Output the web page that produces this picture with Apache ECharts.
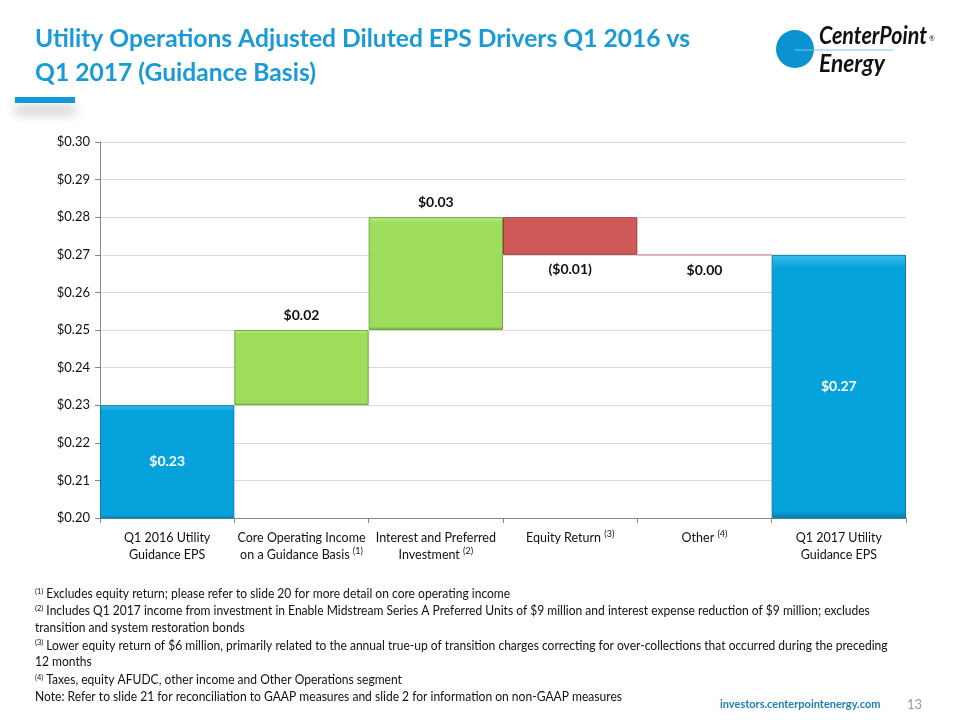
<!DOCTYPE html>
<html><head><meta charset="utf-8">
<script src="https://cdn.jsdelivr.net/npm/echarts@6/dist/echarts.min.js"></script>
<style>html,body{margin:0;padding:0;background:#fff}#c{width:960px;height:720px}</style>
</head><body><div id="c"></div>
<script>
const categories = [
  'Q1 2016 Utility\nGuidance EPS',
  'Core Operating Income\non a Guidance Basis {sup|(1)}',
  'Interest and Preferred\nInvestment {sup|(2)}',
  'Equity Return {sup|(3)}',
  'Other {sup|(4)}',
  'Q1 2017 Utility\nGuidance EPS'
];
const values = [0.23, 0.02, 0.03, -0.01, 0.00, 0.27];
const isTotal = [true, false, false, false, false, true];
const labels = ['$0.23', '$0.02', '$0.03', '($0.01)', '$0.00', '$0.27'];
const footnotes = [
  '{s|(1)} Excludes equity return; please refer to slide 20 for more detail on core operating income',
  '{s|(2)} Includes Q1 2017 income from investment in Enable Midstream Series A Preferred Units of $9 million and interest expense reduction of $9 million; excludes',
  'transition and system restoration bonds',
  '{s|(3)} Lower equity return of $6 million, primarily related to the annual true-up of transition charges correcting for over-collections that occurred during the preceding',
  '12 months',
  '{s|(4)} Taxes, equity AFUDC, other income and Other Operations segment',
  'Note: Refer to slide 21 for reconciliation to GAAP measures and slide 2 for information on non-GAAP measures'
];

const LFONT = 'Lato, "Open Sans", sans-serif';

// text measuring helper (layout only)
const mctx = document.createElement('canvas').getContext('2d');
function fitScale(text, font, target) {
  mctx.font = font;
  return target / mctx.measureText(text).width;
}

// waterfall bases
let running = 0;
const base = [], height = [];
values.forEach((v, i) => {
  if (isTotal[i]) { base.push(0); height.push(v); running = v; }
  else if (v >= 0) { base.push(running); height.push(v); running += v; }
  else { base.push(running + v); height.push(-v); running += v; }
});

const colors = { total: ['#3cc0ee', '#06a2dc', '#0a7cab'], up: ['#bdee8c', '#9ddd5b', '#6ea83a'], down: ['#e48484', '#cf5858', '#9c3a3a'], zero: ['#e0a8a8', '#e0a8a8', '#d4a0a0'] };
function grad(c) {
  return new echarts.graphic.LinearGradient(0, 0, 0, 1, [
    { offset: 0, color: c[0] }, { offset: 0.05, color: c[1] }, { offset: 0.97, color: c[1] }, { offset: 1, color: c[2] }
  ]);
}
const visData = values.map((v, i) => {
  let c = isTotal[i] ? colors.total : v > 0 ? colors.up : v < 0 ? colors.down : colors.zero;
  let pos = isTotal[i] ? 'inside' : v > 0 ? 'top' : 'bottom';
  return {
    value: Math.round(height[i] * 1000) / 1000,
    itemStyle: { color: grad(c), borderColor: c[2], borderWidth: 1 },
    label: {
      show: true, position: pos, distance: 8,
      formatter: labels[i],
      color: isTotal[i] ? '#ffffff' : '#111111',
      fontFamily: LFONT, fontWeight: 'bold', fontSize: 14
    }
  };
});

const chart = echarts.init(document.getElementById('c'), null, { renderer: 'canvas' });
const fnFont = '13px ' + LFONT;
const fnScale = fitScale(footnotes[1].replace('{s|(2)}', '(2)'), fnFont, 840);
const fnRich = { s: { fontSize: 8, padding: [0, 0, 6, 0], fontFamily: LFONT, color: '#111' } };
const titleFont = 'bold 25px ' + LFONT;
const titleScale = fitScale('Utility Operations Adjusted Diluted EPS Drivers Q1 2016 vs', titleFont, 655);
const logoFont = 'italic bold 25px ' + LFONT;
const cpScale = fitScale('CenterPoint', logoFont, 108);
const enScale = fitScale('Energy', logoFont, 66);
const graphics = [
  { type: 'text', x: 35, y: 22, scaleX: titleScale, style: { text: 'Utility Operations Adjusted Diluted EPS Drivers Q1 2016 vs\nQ1 2017 (Guidance Basis)', font: titleFont, fill: '#1a9ad6', lineHeight: 34 } },
  { type: 'rect', shape: { x: 15, y: 97, width: 60, height: 6 }, style: { fill: '#0f9ad6', shadowColor: 'rgba(0,0,0,0.3)', shadowBlur: 12, shadowOffsetY: 10 } },
  // logo
  { type: 'circle', shape: { cx: 795, cy: 49, r: 19 }, style: { fill: '#0a93d0' } },
  { type: 'line', shape: { x1: 795, y1: 50, x2: 893, y2: 50 }, style: { stroke: '#7fc4e6', lineWidth: 1.2 } },
  { type: 'text', x: 819, y: 23, scaleX: cpScale, style: { text: 'CenterPoint', font: logoFont, fill: '#111' } },
  { type: 'text', x: 929, y: 35, style: { text: '®', font: '7px ' + LFONT, fill: '#111' } },
  { type: 'text', x: 819, y: 51, scaleX: enScale, style: { text: 'Energy', font: logoFont, fill: '#111' } },
  // footer
  { type: 'text', x: 720, y: 699, style: { text: 'investors.centerpointenergy.com', font: 'bold 11px ' + LFONT, fill: '#1a7fc0' } },
  { type: 'text', x: 907, y: 698, style: { text: '13', font: '13px ' + LFONT, fill: '#999' } }
];
footnotes.forEach((t, i) => {
  graphics.push({ type: 'text', x: 35, y: 587 + i * 17.2, scaleX: fnScale, style: { text: t, font: fnFont, fill: '#111', rich: fnRich } });
});

chart.setOption({
  animation: false,
  backgroundColor: '#fff',
  grid: { left: 100, right: 54, top: 142, bottom: 202 },
  xAxis: {
    type: 'category', data: categories,
    axisLine: { lineStyle: { color: '#868686' } },
    axisTick: { show: true, alignWithLabel: false, length: 5, lineStyle: { color: '#868686' } },
    axisLabel: {
      interval: 0, margin: 11, color: '#111', fontFamily: LFONT, fontSize: 12.5, lineHeight: 17,
      rich: { sup: { fontSize: 9, padding: [0, 0, 7, 0], fontFamily: LFONT, color: '#111' } }
    }
  },
  yAxis: {
    type: 'value', min: 0.20, max: 0.30, interval: 0.01,
    axisLine: { show: true, lineStyle: { color: '#868686' } },
    axisTick: { show: true, length: 5, lineStyle: { color: '#868686' } },
    splitLine: { lineStyle: { color: '#d9d9d9' } },
    axisLabel: { formatter: v => '$' + v.toFixed(2), color: '#111', fontFamily: LFONT, fontSize: 13, margin: 10 }
  },
  series: [
    { type: 'bar', stack: 'w', data: base, itemStyle: { color: 'transparent' }, barCategoryGap: '0%', silent: true },
    { type: 'bar', stack: 'w', data: visData, barCategoryGap: '0%', clip: true }
  ],
  graphic: graphics
});
</script></body></html>
